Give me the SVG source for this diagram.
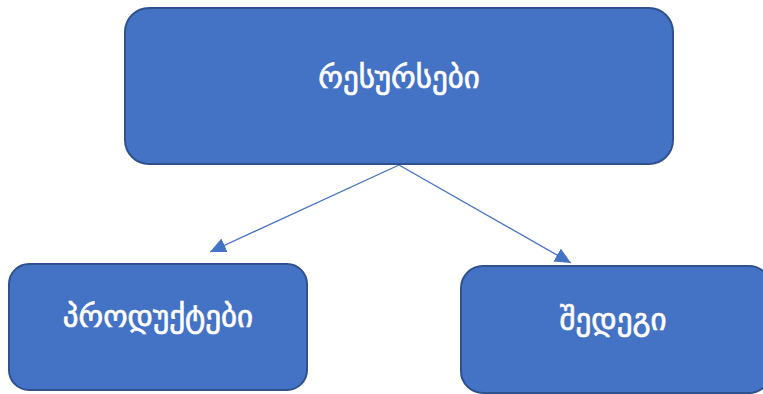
<svg xmlns="http://www.w3.org/2000/svg" width="763" height="394" viewBox="0 0 763 394">
<style>
.box{fill:#4472C4;stroke:#2F528F;stroke-width:2}
.lbl{fill:#FFFFFF;stroke:#FFFFFF;stroke-width:0.7;font-family:"DejaVu Sans",sans-serif;font-size:31px;text-anchor:middle}
.conn{stroke:#4472C4;stroke-width:1.3;fill:none}
</style>
<defs>
<marker id="ah" markerUnits="userSpaceOnUse" markerWidth="16" markerHeight="15" refX="16" refY="7.5" orient="auto" viewBox="0 0 16 15">
<path d="M0,0 L16,7.5 L0,15 z" fill="#4472C4"/>
</marker>
</defs>
<g id="connectors">
<line class="conn" x1="399" y1="165" x2="210" y2="252" marker-end="url(#ah)"/>
<line class="conn" x1="399" y1="165" x2="571" y2="263" marker-end="url(#ah)"/>
</g>
<g id="resources">
<rect class="box" x="125" y="8" width="548" height="156" rx="24"/>
<text class="lbl" x="399" y="88">რესურსები</text>
</g>
<g id="products">
<rect class="box" x="9" y="264" width="298" height="126" rx="20"/>
<text class="lbl" x="158" y="327">პროდუქტები</text>
</g>
<g id="results">
<rect class="box" x="461" y="266" width="310" height="127" rx="22"/>
<text class="lbl" x="613" y="330">შედეგი</text>
</g>
</svg>
